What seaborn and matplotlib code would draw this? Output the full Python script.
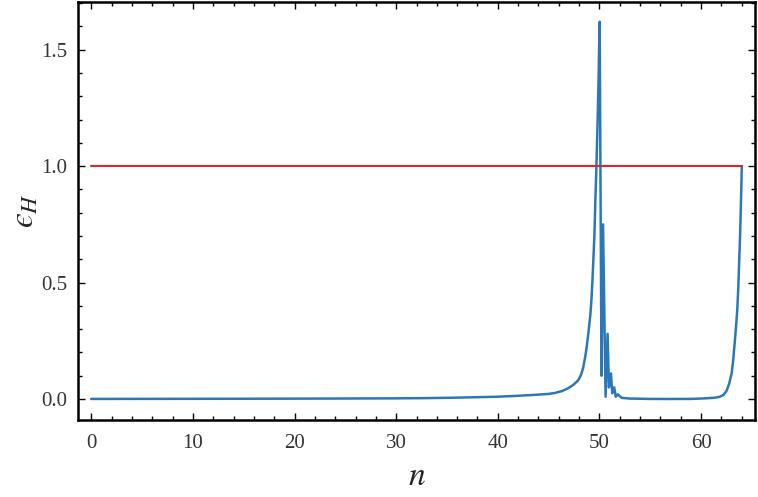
import matplotlib
matplotlib.use("Agg")
import matplotlib.pyplot as plt
import seaborn as sns
import pandas as pd
from matplotlib.ticker import MultipleLocator

# ---- data ----
n_vals = [0, 5, 10, 15, 20, 25, 30, 33, 36, 38, 40, 42, 44, 45, 45.6, 46.3,
          46.9, 47.4, 47.9, 48.2, 48.4, 48.55, 48.7, 48.9, 49.1, 49.2, 49.3,
          49.4, 49.5, 49.6, 49.68, 49.75, 49.82, 49.9, 49.96, 50.02,
          50.2, 50.35, 50.6, 50.8, 50.93, 51.13, 51.26, 51.45,
          51.6, 51.8, 52.2, 53, 55, 57, 59, 59.9, 60.8, 61.4, 61.85, 62.2,
          62.5, 62.75, 63.0, 63.15, 63.3, 63.45, 63.55, 63.65, 63.75, 63.83,
          63.9, 63.96, 64.0]
eps_vals = [0.0005, 0.0007, 0.001, 0.0013, 0.0017, 0.0023, 0.003, 0.004, 0.006,
            0.008, 0.01, 0.014, 0.019, 0.022, 0.026, 0.034,
            0.046, 0.06, 0.08, 0.105, 0.135, 0.17, 0.21, 0.28, 0.36, 0.42, 0.5,
            0.6, 0.7, 0.86, 0.97, 1.08, 1.2, 1.35, 1.5, 1.62,
            0.10, 0.75, 0.01, 0.28, 0.05, 0.11, 0.025, 0.05,
            0.01, 0.02, 0.005, 0.002, 0.0005, 0.0003, 0.0006, 0.002, 0.004,
            0.006, 0.01, 0.018,
            0.035, 0.065, 0.11, 0.165, 0.24, 0.32, 0.38, 0.47, 0.6, 0.7,
            0.81, 0.92, 1.0]
thr_n = [0, 64]
thr_vals = [1.0, 1.0]

x_ticks = [0, 10, 20, 30, 40, 50, 60]
y_ticks = [0.0, 0.5, 1.0, 1.5]

sns.set_style("ticks")
plt.rcParams["font.family"] = ["Liberation Serif", "DejaVu Serif"]
plt.rcParams["mathtext.fontset"] = "stix"

fig = plt.figure(figsize=(7.58, 4.97), dpi=100)
ax = fig.add_axes([78 / 758, 77 / 497, 677 / 758, 418 / 497])

df = pd.DataFrame({"n": n_vals, "eps": eps_vals})
df_thr = pd.DataFrame({"n": thr_n, "eps": thr_vals})

sns.lineplot(data=df, x="n", y="eps", ax=ax, color="#2a78b8", lw=1.8,
             estimator=None, sort=True)
sns.lineplot(data=df_thr, x="n", y="eps", ax=ax, color="#d62a2a", lw=1.5,
             estimator=None)

ax.set_xlim(-1.3, 65.3)
ax.set_ylim(-0.09, 1.705)
ax.set_xticks(x_ticks)
ax.set_xticklabels([str(t) for t in x_ticks])
ax.set_yticks(y_ticks)
ax.set_yticklabels([f"{t:.1f}" for t in y_ticks])
ax.xaxis.set_minor_locator(MultipleLocator(2))
ax.yaxis.set_minor_locator(MultipleLocator(0.1))
ax.tick_params(which="both", direction="in", top=True, right=True,
               colors="black", labelsize=15, width=1.0)
ax.tick_params(which="major", length=5)
ax.tick_params(which="minor", length=3)
ax.tick_params(axis="x", pad=10)
ax.tick_params(axis="y", pad=8)
for lab in ax.get_xticklabels() + ax.get_yticklabels():
    lab.set_color("#333333")

for s in ax.spines.values():
    s.set_visible(True)
    s.set_linewidth(1.8)
    s.set_color("black")

ax.set_xlabel(r"$n$", fontsize=24, labelpad=6)
ax.set_ylabel("$\u03f5_H$", fontsize=24, labelpad=0)

fig.savefig("out.png", dpi=100)
